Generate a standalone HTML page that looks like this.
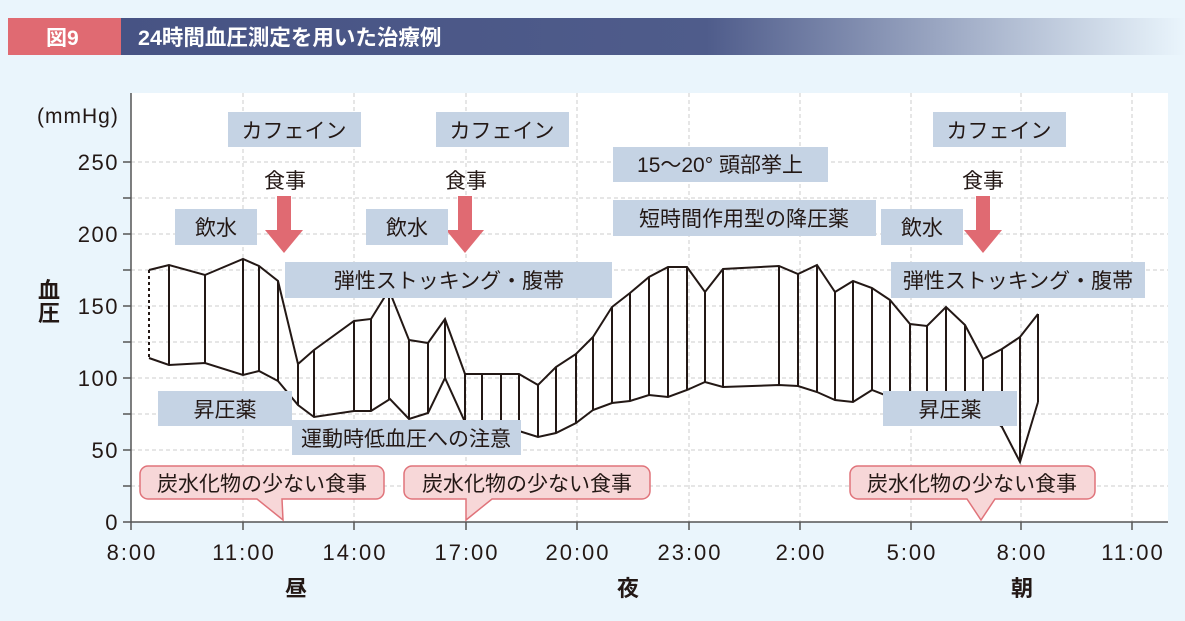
<!DOCTYPE html>
<html><head><meta charset="utf-8"><style>
body{margin:0;background:#eaf5fc;}
svg{display:block;font-family:"Liberation Sans","Noto Sans CJK JP",sans-serif;}
</style></head><body>
<svg width="1185" height="621" viewBox="0 0 1185 621">
<defs><linearGradient id="g" x1="0" x2="1"><stop offset="0" stop-color="#475384"/><stop offset="0.55" stop-color="#4f5c8b"/><stop offset="1" stop-color="#eaf5fc"/></linearGradient></defs>
<rect x="8" y="18" width="113" height="37" fill="#e06a72"/>
<rect x="121" y="18" width="1064" height="37" fill="url(#g)"/>
<text x="46" y="45" fill="#fff" font-size="21" font-weight="bold">図9</text>
<text x="138" y="45" fill="#fff" font-size="21.5" font-weight="bold">24時間血圧測定を用いた治療例</text>
<rect x="131" y="93" width="1037" height="429" fill="#fff"/>
<g stroke="#ccc" stroke-dasharray="4,3" stroke-width="1">
<line x1="131" x2="1168" y1="162" y2="162"/><line x1="131" x2="1168" y1="198" y2="198"/><line x1="131" x2="1168" y1="234" y2="234"/><line x1="131" x2="1168" y1="270" y2="270"/><line x1="131" x2="1168" y1="306" y2="306"/><line x1="131" x2="1168" y1="342" y2="342"/><line x1="131" x2="1168" y1="378" y2="378"/><line x1="131" x2="1168" y1="414" y2="414"/><line x1="131" x2="1168" y1="450" y2="450"/><line x1="131" x2="1168" y1="486" y2="486"/>
<line x1="243" x2="243" y1="93" y2="522"/><line x1="354" x2="354" y1="93" y2="522"/><line x1="466" x2="466" y1="93" y2="522"/><line x1="577" x2="577" y1="93" y2="522"/><line x1="689" x2="689" y1="93" y2="522"/><line x1="800" x2="800" y1="93" y2="522"/><line x1="911" x2="911" y1="93" y2="522"/><line x1="1021" x2="1021" y1="93" y2="522"/><line x1="1132" x2="1132" y1="93" y2="522"/>
</g>
<g stroke="#555" stroke-width="1.5">
<line x1="131" y1="93" x2="131" y2="530"/><line x1="123" y1="522" x2="1168" y2="522"/>
<line x1="123" y1="162" x2="131" y2="162"/><line x1="123" y1="198" x2="131" y2="198"/><line x1="123" y1="234" x2="131" y2="234"/><line x1="123" y1="270" x2="131" y2="270"/><line x1="123" y1="306" x2="131" y2="306"/><line x1="123" y1="342" x2="131" y2="342"/><line x1="123" y1="378" x2="131" y2="378"/><line x1="123" y1="414" x2="131" y2="414"/><line x1="123" y1="450" x2="131" y2="450"/><line x1="123" y1="486" x2="131" y2="486"/>
<line x1="243" y1="522" x2="243" y2="530"/><line x1="354" y1="522" x2="354" y2="530"/><line x1="466" y1="522" x2="466" y2="530"/><line x1="577" y1="522" x2="577" y2="530"/><line x1="689" y1="522" x2="689" y2="530"/><line x1="800" y1="522" x2="800" y2="530"/><line x1="911" y1="522" x2="911" y2="530"/><line x1="1021" y1="522" x2="1021" y2="530"/><line x1="1132" y1="522" x2="1132" y2="530"/>
</g>
<g font-size="22" fill="#231815" text-anchor="end" letter-spacing="1.5">
<text x="119" y="170">250</text><text x="119" y="242">200</text><text x="119" y="314">150</text><text x="119" y="386">100</text><text x="119" y="458">50</text><text x="119" y="530">0</text>
</g>
<text x="37" y="123" font-size="21" fill="#231815" letter-spacing="1">(mmHg)</text>
<text x="38" y="298" font-size="22" font-weight="bold" fill="#231815">血</text>
<text x="38" y="321" font-size="22" font-weight="bold" fill="#231815">圧</text>
<g font-size="22" fill="#231815" text-anchor="middle" letter-spacing="2">
<text x="132" y="560">8:00</text><text x="244" y="560">11:00</text><text x="355" y="560">14:00</text><text x="467" y="560">17:00</text><text x="578" y="560">20:00</text><text x="690" y="560">23:00</text><text x="801" y="560">2:00</text><text x="912" y="560">5:00</text><text x="1022" y="560">8:00</text><text x="1133" y="560">11:00</text>
</g>
<g font-size="22" fill="#231815" text-anchor="middle" font-weight="bold">
<text x="296" y="596">昼</text><text x="628" y="596">夜</text><text x="1022" y="596">朝</text>
</g>
<g stroke="#231815" stroke-width="2" fill="none">
<line x1="149" y1="270" x2="149" y2="358" stroke-dasharray="3,3"/>
<polyline points="149,270 169,265 205,275 243,259 259,266 278,281 298,364 314,350 354,321 371,319 389,290 409,340 428,343 445,319 465,374 482,374 501,374 519,374 538,385 556,367 576,354 593,337 612,307 630,293 649,277 668,267 687,267 705,292 723,269 779,266 798,274 817,265 835,292 853,281 872,288 890,300 910,324 927,326 946,307 965,325 983,359 1002,349 1020,337 1038,314"/>
<polyline points="149,358 169,365 205,363 243,375 259,371 278,381 298,405 314,417 354,411 371,411 390,399 409,419 428,413 445,378 465,422 482,427 501,429 519,431 538,437 556,433 576,423 593,410 612,403 630,401 649,395 668,397 687,390 705,382 723,387 779,385 798,386 817,392 835,400 853,402 872,390 890,397 910,400 927,400 946,402 965,404 983,410 1002,427 1020,462 1038,402"/>
<path d="M169,265V365M205,275V363M243,259V375M259,266V371M278,281V381M298,364V405M314,350V417M354,321V411M371,319V411M389,290V399M409,340V419M428,343V413M445,319V378M465,374V422M482,374V427M501,374V429M519,374V431M538,385V437M556,367V433M576,354V423M593,337V410M612,307V403M630,293V401M649,277V395M668,267V397M687,267V390M705,292V382M723,269V387M779,266V385M798,274V386M817,265V392M835,292V400M853,281V402M872,288V390M890,300V397M910,324V400M927,326V400M946,307V402M965,325V404M983,359V410M1002,349V427M1020,337V462M1038,314V402"/>
</g>
<g fill="#e06a72">
<path d="M277,196h14v34h12l-19,23l-19,-23h12z"/>
<path d="M458,196h14v34h12l-19,23l-19,-23h12z"/>
<path d="M976,196h14v34h12l-19,23l-19,-23h12z"/>
</g>
<g fill="#c5d3e4">
<rect x="228" y="112" width="133" height="35"/><rect x="436" y="112" width="133" height="35"/><rect x="933" y="112" width="133" height="35"/>
<rect x="613" y="147" width="215" height="35"/><rect x="613" y="200" width="263" height="36"/>
<rect x="175" y="209" width="82" height="36"/><rect x="366" y="209" width="82" height="36"/><rect x="881" y="209" width="82" height="36"/>
<rect x="285" y="262" width="327" height="36"/><rect x="891" y="262" width="254" height="36"/>
<rect x="158" y="391" width="134" height="35"/><rect x="883" y="391" width="134" height="35"/>
<rect x="292" y="420" width="229" height="35"/>
</g>
<g fill="#f7d7d8" stroke="#e0737a" stroke-width="1.5">
<path d="M148,466H376a8,8 0 0 1 8,8V491a8,8 0 0 1 -8,8H282L283,520L257,499H148a8,8 0 0 1 -8,-8V474a8,8 0 0 1 8,-8z"/>
<path d="M412,466H642a8,8 0 0 1 8,8V491a8,8 0 0 1 -8,8H492L466,520L466,499H412a8,8 0 0 1 -8,-8V474a8,8 0 0 1 8,-8z"/>
<path d="M858,466H1087a8,8 0 0 1 8,8V491a8,8 0 0 1 -8,8H995L981,520L967,499H858a8,8 0 0 1 -8,-8V474a8,8 0 0 1 8,-8z"/>
</g>
<g font-size="21" fill="#231815" text-anchor="middle">
<text x="294" y="138">カフェイン</text><text x="502" y="138">カフェイン</text><text x="999" y="138">カフェイン</text>
<text x="285" y="188">食事</text><text x="466" y="188">食事</text><text x="983" y="188">食事</text>
<text x="720" y="172">15～20° 頭部挙上</text><text x="744" y="226">短時間作用型の降圧薬</text>
<text x="216" y="235">飲水</text><text x="407" y="235">飲水</text><text x="922" y="235">飲水</text>
<text x="449" y="288">弾性ストッキング・腹帯</text><text x="1018" y="288">弾性ストッキング・腹帯</text>
<text x="225" y="417">昇圧薬</text><text x="950" y="417">昇圧薬</text>
<text x="406" y="446">運動時低血圧への注意</text>
<text x="262" y="491">炭水化物の少ない食事</text><text x="527" y="491">炭水化物の少ない食事</text><text x="972" y="491">炭水化物の少ない食事</text>
</g>
</svg>
</body></html>
